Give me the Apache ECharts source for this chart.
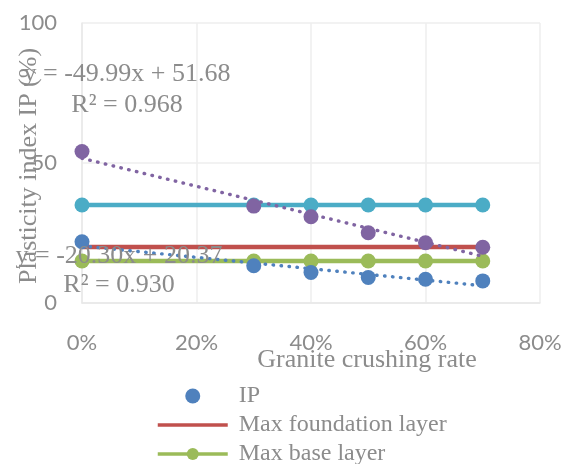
<!DOCTYPE html>
<html>
<head>
<meta charset="utf-8">
<script src="https://cdn.jsdelivr.net/npm/echarts@6/dist/echarts.min.js"></script>
<style>
html,body{margin:0;padding:0;background:#fff;}
#chart{width:568px;height:464px;}
</style>
</head>
<body>
<div id="chart"></div>
<script>
// ---- data ----
const xRates = [0, 0.3, 0.4, 0.5, 0.6, 0.7];
const ipVals = [21.9, 13.3, 10.9, 9.1, 8.5, 7.9];
const ip2Vals = [54.1, 34.6, 30.8, 25.1, 21.5, 19.9];
const maxFoundation = [20, 20, 20, 20, 20, 20];
const maxBase = [15, 15, 15, 15, 15, 15];
const maxSubbase = [35, 35, 35, 35, 35, 35];
// linear trendlines as printed on the chart: y = slope*x + intercept
const trendSlopes = [-20.30, -49.99];
const trendIntercepts = [20.37, 51.68];
const trendR2 = ['0.930', '0.968'];
const legendNames = ['IP', 'Max foundation layer', 'Max base layer'];

const pair = (vals) => xRates.map((x, i) => [x, vals[i]]);
const trendData = (k) => {
  const x0 = xRates[0], x1 = xRates[xRates.length - 1];
  return [[x0, trendSlopes[k] * x0 + trendIntercepts[k]], [x1, trendSlopes[k] * x1 + trendIntercepts[k]]];
};
const fmtEq = (k) => 'y = ' + trendSlopes[k].toFixed(2) + 'x + ' + trendIntercepts[k].toFixed(2) + '\nR\u00b2 = ' + trendR2[k];

const C = {blue:'#4F81BD', red:'#C0504D', green:'#9BBB59', purple:'#8064A2', cyan:'#4BACC6'};
const gray = '#8c8c8c';
const serif = '"Liberation Serif", "Times New Roman", serif';

const chart = echarts.init(document.getElementById('chart'), null, {renderer:'canvas'});
chart.setOption({
  animation: false,
  grid: {left: 82, right: 28, top: 23, bottom: 161},
  xAxis: {
    type: 'value', min: 0, max: 0.8, interval: 0.2,
    axisLine: {show: true, lineStyle: {color: '#e8e8e8', width: 1.5}},
    axisTick: {show: false},
    splitLine: {show: true, lineStyle: {color: '#eeeeee', width: 1.5}},
    axisLabel: {
      margin: 29, color: gray, fontFamily: 'Lato', fontSize: 22,
      formatter: v => Math.round(v * 100) + '%'
    }
  },
  yAxis: {
    type: 'value', min: 0, max: 100, interval: 50,
    axisLine: {show: true, lineStyle: {color: '#e8e8e8', width: 1.5}},
    axisTick: {show: false},
    splitLine: {show: true, lineStyle: {color: '#eeeeee', width: 1.5}},
    axisLabel: {margin: 25, color: gray, fontFamily: 'Lato', fontSize: 22}
  },
  legend: {
    data: [
      {name: legendNames[0]},
      {name: legendNames[1], itemStyle: {opacity: 0}},
      {name: legendNames[2]}
    ],
    orient: 'vertical', left: 156, top: 384, height: 200, padding: 0,
    itemWidth: 70, itemHeight: 15, itemGap: 5,
    lineStyle: {width: 3.5},
    textStyle: {fontFamily: serif, fontSize: 24, color: gray, lineHeight: 24, padding: [0,0,0,6]}
  },
  series: [
    {name: 'Max subbase layer', type: 'line', data: pair(maxSubbase), z: 2,
     symbol: 'circle', symbolSize: 15, itemStyle: {color: C.cyan},
     lineStyle: {color: C.cyan, width: 4.5}},
    {name: 'Max foundation layer', type: 'line', data: pair(maxFoundation), z: 2,
     symbol: 'none', itemStyle: {color: C.red},
     lineStyle: {color: C.red, width: 4.5}},
    {name: 'Max base layer', type: 'line', data: pair(maxBase), z: 2,
     symbol: 'circle', symbolSize: 15, itemStyle: {color: C.green},
     lineStyle: {color: C.green, width: 4.5}},
    {name: 'Linear (IP)', type: 'line', data: trendData(0), z: 3,
     symbol: 'none', lineStyle: {color: C.blue, width: 3.4, type: [0.5, 7.5], cap: 'round'}},
    {name: 'Linear (IP 2)', type: 'line', data: trendData(1), z: 3,
     symbol: 'none', lineStyle: {color: C.purple, width: 3.4, type: [0.5, 7.5], cap: 'round'}},
    {name: 'IP', type: 'scatter', data: pair(ipVals), z: 4,
     symbol: 'circle', symbolSize: 15, itemStyle: {color: C.blue, opacity: 1}},
    {name: 'IP 2', type: 'scatter', data: pair(ip2Vals), z: 4,
     symbol: 'circle', symbolSize: 15, itemStyle: {color: C.purple, opacity: 1}}
  ],
  graphic: [
    {type: 'text', z: 100, x: 29, y: 166, rotation: Math.PI / 2,
     style: {text: 'Plasticity index IP (%)', font: '26px ' + serif, fill: gray, align: 'center', verticalAlign: 'middle'}},
    {type: 'text', z: 100, x: 367, y: 360,
     style: {text: 'Granite crushing rate', font: '26px ' + serif, fill: gray, align: 'center', verticalAlign: 'middle'}},
    {type: 'text', z: 100, x: 127, y: 90,
     style: {text: fmtEq(1), font: '26px ' + serif, lineHeight: 31, fill: gray, align: 'center', verticalAlign: 'middle'}},
    {type: 'text', z: 100, x: 119, y: 271,
     style: {text: fmtEq(0), font: '26px ' + serif, lineHeight: 29, fill: gray, align: 'center', verticalAlign: 'middle'}}
  ]
});
</script>
</body>
</html>
